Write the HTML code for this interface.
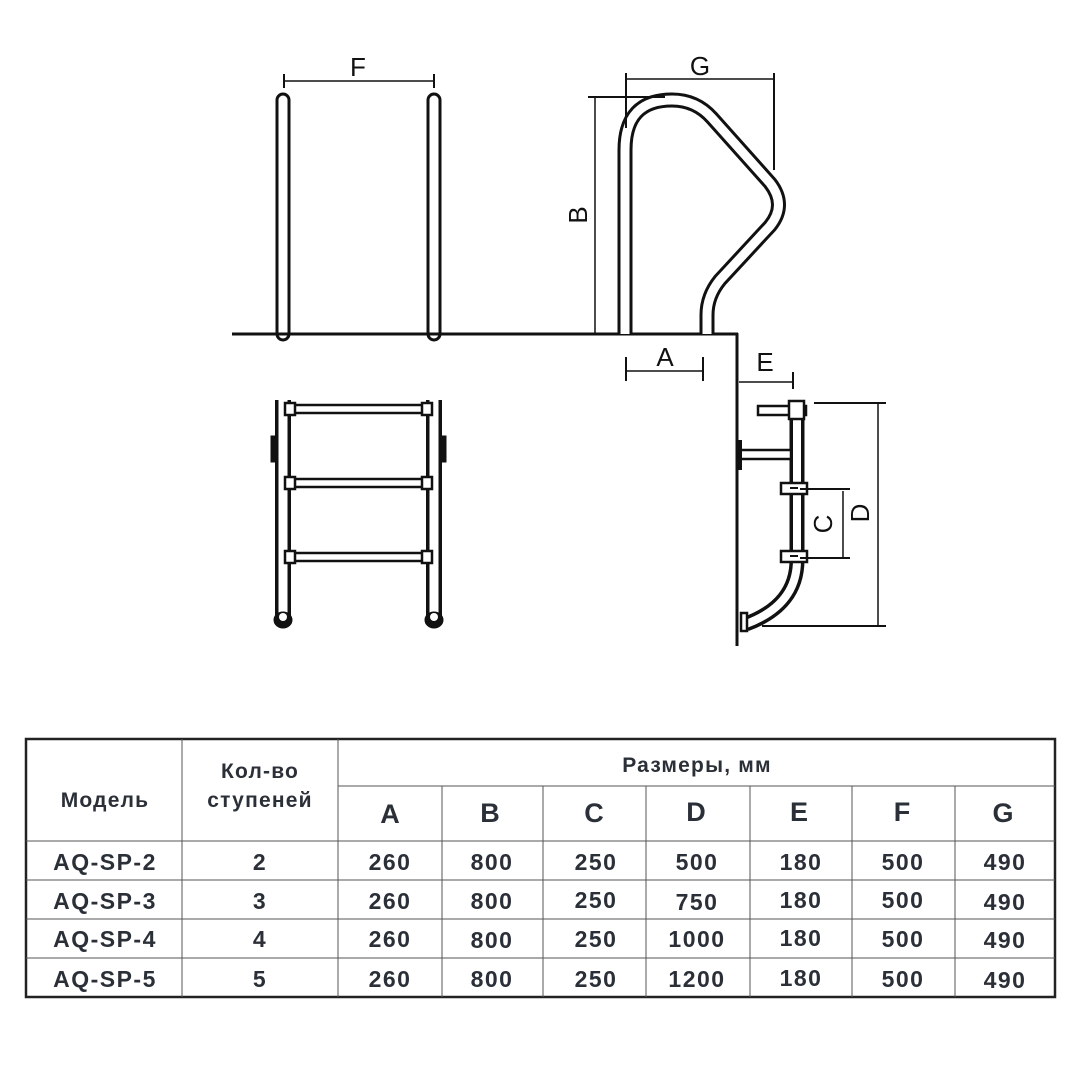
<!DOCTYPE html>
<html><head><meta charset="utf-8"><style>
html,body{margin:0;padding:0;background:#fff;width:1080px;height:1080px;overflow:hidden}
svg{display:block}
.t{font-family:"Liberation Sans",sans-serif;font-weight:bold;fill:#2b3038;text-anchor:middle}
.d{font-family:"Liberation Sans",sans-serif;fill:#111;text-anchor:middle;font-size:26px}
</style></head><body>
<svg width="1080" height="1080" viewBox="0 0 1080 1080" xmlns="http://www.w3.org/2000/svg">
<g fill="none" stroke="#111" stroke-linecap="butt">
<line x1="232" y1="334" x2="738" y2="334" stroke-width="3"/>
<line x1="737" y1="333" x2="737" y2="646" stroke-width="3"/>
<path d="M283,334 V100" stroke-width="15" stroke-linecap="round"/>
<path d="M283,334 V100" stroke="#fff" stroke-width="9" stroke-linecap="round"/>
<path d="M434,334 V100" stroke-width="15" stroke-linecap="round"/>
<path d="M434,334 V100" stroke="#fff" stroke-width="9" stroke-linecap="round"/>
<line x1="232" y1="334" x2="738" y2="334" stroke-width="3"/>
<line x1="284" y1="81" x2="434" y2="81" stroke-width="1.5"/>
<line x1="284" y1="74" x2="284" y2="88" stroke-width="2"/>
<line x1="434" y1="74" x2="434" y2="88" stroke-width="2"/>
<path d="M283,400 V618" stroke-width="16"/>
<path d="M283,400 V618" stroke="#fff" stroke-width="9"/>
<path d="M434,400 V618" stroke-width="16"/>
<path d="M434,400 V618" stroke="#fff" stroke-width="9"/>
<ellipse cx="283" cy="620" rx="9" ry="8" fill="#111"/>
<ellipse cx="434" cy="620" rx="9" ry="8" fill="#111"/>
<ellipse cx="283" cy="617" rx="4" ry="4" fill="#fff" stroke="none"/>
<ellipse cx="434" cy="617" rx="4" ry="4" fill="#fff" stroke="none"/>
<rect x="271" y="436" width="5" height="26" fill="#111"/>
<rect x="441" y="436" width="5" height="26" fill="#111"/>
<g stroke-width="2.5">
<rect x="288" y="405" width="141" height="8" fill="#fff"/>
<rect x="288" y="479" width="141" height="8" fill="#fff"/>
<rect x="288" y="553" width="141" height="8" fill="#fff"/>
<rect x="285" y="403" width="10" height="12" fill="#fff"/>
<rect x="422" y="403" width="10" height="12" fill="#fff"/>
<rect x="285" y="477" width="10" height="12" fill="#fff"/>
<rect x="422" y="477" width="10" height="12" fill="#fff"/>
<rect x="285" y="551" width="10" height="12" fill="#fff"/>
<rect x="422" y="551" width="10" height="12" fill="#fff"/>
</g>
<path d="M625,334 L625,150 Q625,100 672,100 Q696,100 712,118 L770,183 Q787,205 770,226 L720,280 Q707,296 707,315 L707,334" stroke-width="15"/>
<path d="M625,334 L625,150 Q625,100 672,100 Q696,100 712,118 L770,183 Q787,205 770,226 L720,280 Q707,296 707,315 L707,334" stroke="#fff" stroke-width="9"/>
<line x1="595" y1="97" x2="595" y2="333" stroke-width="1.5"/>
<line x1="588" y1="97" x2="665" y2="97" stroke-width="2"/>
<line x1="627" y1="79" x2="773" y2="79" stroke-width="1.5"/>
<line x1="626" y1="73" x2="626" y2="128" stroke-width="2"/>
<line x1="774" y1="73" x2="774" y2="170" stroke-width="2"/>
<line x1="626" y1="371" x2="703" y2="371" stroke-width="1.5"/>
<line x1="626" y1="357" x2="626" y2="381" stroke-width="2"/>
<line x1="703" y1="357" x2="703" y2="381" stroke-width="2"/>
<line x1="739" y1="382" x2="793" y2="382" stroke-width="1.5"/>
<line x1="793" y1="372" x2="793" y2="389" stroke-width="2"/>
<path d="M797,403 V560 Q797,605 746,624" stroke-width="15"/>
<path d="M797,403 V560 Q797,605 746,624" stroke="#fff" stroke-width="8"/>
<rect x="741" y="613" width="6" height="18" fill="#fff" stroke-width="2.5"/>
<rect x="758" y="406" width="48" height="9" fill="#fff" stroke-width="2.5"/>
<rect x="789" y="401" width="15" height="18" fill="#fff" stroke-width="2.5"/>
<rect x="739" y="450" width="52" height="9" fill="#fff" stroke-width="2.5"/>
<rect x="738" y="440" width="4" height="30" fill="#111" stroke="none"/>
<rect x="781" y="483" width="26" height="11" fill="#fff" stroke-width="2.5"/>
<rect x="781" y="551" width="26" height="11" fill="#fff" stroke-width="2.5"/>
<line x1="790" y1="488" x2="798" y2="488" stroke-width="2"/>
<line x1="790" y1="556" x2="798" y2="556" stroke-width="2"/>
<line x1="878" y1="404" x2="878" y2="625" stroke-width="1.5"/>
<line x1="814" y1="403" x2="886" y2="403" stroke-width="2"/>
<line x1="762" y1="626" x2="886" y2="626" stroke-width="2"/>
<line x1="843" y1="491" x2="843" y2="557" stroke-width="1.5"/>
<line x1="800" y1="489" x2="850" y2="489" stroke-width="2"/>
<line x1="800" y1="558" x2="850" y2="558" stroke-width="2"/>
</g>
<text class="d" x="358" y="76">F</text>
<text class="d" x="700" y="75">G</text>
<text class="d" x="665" y="366">A</text>
<text class="d" x="765" y="371">E</text>
<text class="d" transform="translate(587,215) rotate(-90)">B</text>
<text class="d" transform="translate(832,524) rotate(-90)">C</text>
<text class="d" transform="translate(869,513) rotate(-90)">D</text>
<g stroke="#222" fill="none">
<rect x="26" y="739" width="1029" height="258" stroke-width="2.5"/>
<g stroke-width="1" stroke="#555">
<line x1="182" y1="739" x2="182" y2="997"/>
<line x1="338" y1="739" x2="338" y2="997"/>
<line x1="338" y1="786" x2="1055" y2="786"/>
<line x1="26" y1="841" x2="1055" y2="841"/>
<line x1="26" y1="880" x2="1055" y2="880"/>
<line x1="26" y1="919" x2="1055" y2="919"/>
<line x1="26" y1="958" x2="1055" y2="958"/>
<line x1="442" y1="786" x2="442" y2="997"/>
<line x1="543" y1="786" x2="543" y2="997"/>
<line x1="646" y1="786" x2="646" y2="997"/>
<line x1="750" y1="786" x2="750" y2="997"/>
<line x1="852" y1="786" x2="852" y2="997"/>
<line x1="955" y1="786" x2="955" y2="997"/>
</g>
</g>
<g class="t" font-size="21" letter-spacing="1.2">
<text x="105" y="807">Модель</text>
<text x="260" y="778">Кол-во</text>
<text x="260" y="807">ступеней</text>
<text x="697" y="772">Размеры, мм</text>
</g>
<g class="t" font-size="27">
<text x="390" y="823">A</text><text x="490" y="822">B</text><text x="594" y="822">C</text><text x="696" y="821">D</text><text x="799" y="821">E</text><text x="902" y="821">F</text><text x="1003" y="822">G</text>
</g>
<g class="t" font-size="23" letter-spacing="1.5">
<text x="105" y="870">AQ-SP-2</text><text x="260" y="870">2</text><text x="390" y="870">260</text><text x="492" y="870">800</text><text x="596" y="870">250</text><text x="697" y="870">500</text><text x="801" y="870">180</text><text x="903" y="870">500</text><text x="1005" y="870">490</text>
<text x="105" y="909">AQ-SP-3</text><text x="260" y="909">3</text><text x="390" y="909">260</text><text x="492" y="909">800</text><text x="596" y="908">250</text><text x="697" y="910">750</text><text x="801" y="908">180</text><text x="903" y="908">500</text><text x="1005" y="910">490</text>
<text x="105" y="947">AQ-SP-4</text><text x="260" y="947">4</text><text x="390" y="947">260</text><text x="492" y="948">800</text><text x="596" y="947">250</text><text x="697" y="947">1000</text><text x="801" y="946">180</text><text x="903" y="947">500</text><text x="1005" y="948">490</text>
<text x="105" y="987">AQ-SP-5</text><text x="260" y="987">5</text><text x="390" y="987">260</text><text x="492" y="987">800</text><text x="596" y="987">250</text><text x="697" y="987">1200</text><text x="801" y="986">180</text><text x="903" y="987">500</text><text x="1005" y="988">490</text>
</g>
</svg>
</body></html>
